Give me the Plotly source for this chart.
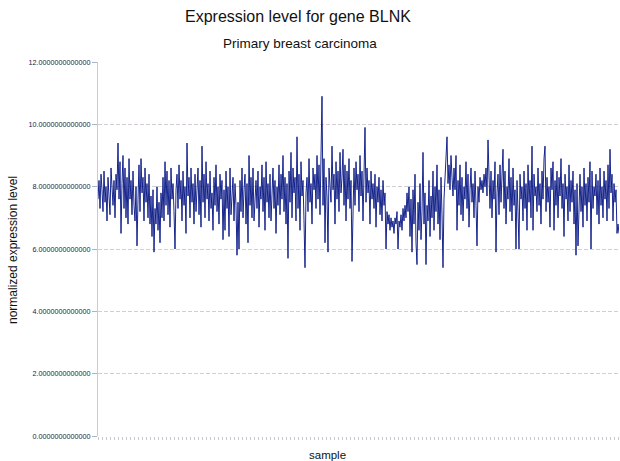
import plotly.graph_objects as go

title_text = "Expression level for gene BLNK"
subtitle_text = "Primary breast carcinoma"
x_label = "sample"
y_label = "normalized expression level"
y_ticks = [0, 2, 4, 6, 8, 10, 12]

expression = [
    7.6,8.2,7.3,8.4,7.9,7.2,8.5,7.5,8.0,6.9,8.3,7.7,7.1,8.6,7.8,7.4,8.2,7.0,8.4,7.9,
    9.4,7.6,8.8,6.5,8.1,9.0,7.3,8.6,7.0,8.3,6.8,8.9,7.6,8.2,7.1,8.5,7.4,6.9,8.0,6.1,
    7.6,8.7,7.2,8.9,7.8,8.3,6.9,8.6,7.5,8.1,7.0,8.4,6.8,7.7,6.4,7.9,5.9,7.3,6.8,8.0,
    6.6,7.5,6.2,7.8,7.0,8.3,6.9,8.8,7.4,8.5,7.1,8.2,6.7,8.6,7.6,8.1,7.2,6.0,7.9,8.4,
    7.3,8.7,7.6,8.2,6.9,8.5,7.4,8.0,6.5,9.4,7.7,8.3,7.0,8.6,7.5,8.1,6.8,8.4,7.2,7.9,
    8.6,7.1,8.2,6.7,9.3,7.5,8.4,7.0,8.8,7.6,8.1,6.9,8.5,7.3,7.8,6.6,8.3,7.4,8.7,7.2,
    8.0,6.8,8.4,7.6,8.2,6.3,7.9,6.6,8.5,7.3,8.0,6.4,8.6,7.1,7.8,8.3,6.9,8.1,7.4,5.8,
    7.5,6.0,8.2,7.2,8.6,7.0,7.9,8.4,6.8,8.1,6.2,9.0,7.4,8.3,7.0,8.6,6.9,7.7,8.2,7.3,
    8.5,6.7,8.0,7.6,8.7,7.2,8.3,6.6,8.8,7.5,8.1,7.0,8.4,6.9,7.8,8.6,7.3,8.2,6.5,8.0,
    7.4,8.7,7.1,8.4,7.6,9.0,7.2,8.3,6.8,8.1,5.7,8.5,7.5,9.1,7.0,8.6,7.8,8.3,6.9,9.6,
    7.3,8.4,6.6,8.8,7.7,8.2,6.9,5.4,7.8,8.3,7.2,8.9,7.5,8.1,6.8,8.6,7.9,8.4,7.3,9.0,
    7.6,8.7,7.1,8.5,10.9,7.4,8.9,6.2,8.3,7.7,5.9,8.6,8.1,7.5,9.3,7.9,8.4,6.8,8.8,7.6,
    8.5,7.2,9.1,7.8,8.3,9.2,7.4,8.7,6.9,8.5,7.6,8.9,7.3,8.2,5.6,8.0,8.6,7.4,8.8,7.9,
    8.4,7.2,9.0,7.7,8.5,6.9,8.3,9.9,7.5,8.6,7.8,8.2,6.8,8.5,7.6,8.1,7.3,8.4,6.7,8.0,
    7.5,8.3,7.1,7.9,6.9,8.2,7.4,7.8,6.0,7.2,6.8,7.1,6.6,7.0,6.7,6.9,6.5,7.0,6.8,7.2,
    6.0,6.9,6.7,7.1,6.6,7.3,6.9,7.4,7.0,7.8,7.2,8.0,6.4,7.6,5.9,7.9,6.8,8.4,6.2,5.5,
    7.5,6.6,8.1,6.3,7.2,9.1,6.8,7.8,5.5,7.4,6.9,8.2,6.4,7.7,7.0,8.5,6.6,8.0,7.2,8.7,
    6.8,7.9,6.3,8.3,7.1,5.4,7.6,8.2,8.8,9.6,8.1,8.7,7.9,9.0,8.3,7.7,8.6,7.9,9.0,6.6,
    8.2,7.4,8.7,7.1,8.3,6.9,8.0,7.6,8.8,7.3,8.4,6.7,7.9,8.6,7.5,8.1,7.0,8.5,7.4,6.1,
    8.0,7.5,8.3,7.9,8.2,7.8,8.4,8.0,8.6,7.7,9.5,8.1,7.3,8.5,7.0,8.2,7.6,8.8,5.9,7.8,
    8.4,7.1,8.7,7.5,8.2,9.2,7.3,8.5,6.8,8.0,7.6,8.9,7.2,8.3,6.9,8.6,7.4,7.9,6.0,8.2,
    7.2,6.0,8.4,7.6,8.0,6.9,8.5,7.3,8.1,6.6,8.7,7.5,8.2,7.0,9.3,6.6,8.4,7.7,8.0,7.2,
    8.6,7.4,8.1,6.8,8.5,7.6,8.9,9.3,7.2,8.3,7.5,8.0,6.7,8.6,7.9,8.8,6.6,8.2,7.4,8.5,
    7.0,8.3,7.7,8.9,7.3,8.1,6.4,8.4,7.6,8.0,6.9,8.7,7.2,8.2,7.5,8.5,6.8,7.9,5.8,8.1,
    6.1,7.6,8.4,7.2,8.0,6.7,8.6,7.4,8.1,6.9,8.3,7.5,8.8,6.0,8.5,7.3,8.0,7.7,8.4,7.1,
    8.2,6.8,8.6,7.4,8.0,7.0,8.5,7.6,8.2,6.9,8.7,7.3,9.2,7.8,8.4,6.9,8.1,7.5,7.9,6.5,6.8,6.5,
]
samples = list(range(1, len(expression) + 1))

W, H = 620, 461
L, R, T, B = 98, 1, 62, 25
pw, ph = W - L - R, H - T - B


def px_x(x):
    return (x - L) / pw


def px_y(y):
    return (H - B - y) / ph


fig = go.Figure()
fig.add_trace(go.Scatter(
    x=samples, y=expression, mode="lines",
    line=dict(color="#001080", width=0.9),
    hoverinfo="skip", showlegend=False,
))

txt = dict(color="#111111")
fig.update_layout(
    width=W, height=H,
    margin=dict(l=L, r=R, t=T, b=B, autoexpand=False),
    paper_bgcolor="white", plot_bgcolor="white",
    font=dict(family="Liberation Sans, Arial, sans-serif", color="#111111"),
    annotations=[
        dict(text=title_text, x=px_x(298), y=px_y(17), xref="paper", yref="paper",
             showarrow=False, yanchor="middle", font=dict(size=16, **txt)),
        dict(text=subtitle_text, x=px_x(300), y=px_y(43), xref="paper", yref="paper",
             showarrow=False, yanchor="middle", font=dict(size=13.5, **txt)),
        dict(text=x_label, x=px_x(327), y=px_y(455), xref="paper", yref="paper",
             showarrow=False, yanchor="middle", font=dict(size=11.5, **txt)),
        dict(text=y_label, x=px_x(13), y=px_y(250), xref="paper", yref="paper",
             showarrow=False, xanchor="center", yanchor="middle", textangle=-90,
             font=dict(size=12, **txt)),
    ],
)

fig.update_xaxes(
    range=[samples[0], samples[-1]], automargin=False,
    showgrid=False, zeroline=False,
    tickmode="array", tickvals=samples[::4], ticktext=[""] * len(samples[::4]),
    ticks="outside", ticklen=3, tickcolor="#c8c8d0", tickwidth=1,
    showline=False,
)
fig.update_yaxes(
    range=[0, 12], automargin=False,
    tickvals=y_ticks, tickformat=".13f",
    tickfont=dict(size=7.2, color="#1a1a50"),
    ticks="outside", ticklen=5, tickcolor="#b0b0c0",
    showgrid=True, gridcolor="#d4cdd6", griddash="4px,2px", gridwidth=1,
    zeroline=False,
    showline=True, linecolor="#c8c8e0", linewidth=1,
)

fig.write_html(
    "out.html",
    config={"displayModeBar": False},
    post_script="document.body.style.margin='0';document.body.style.padding='0';",
)
